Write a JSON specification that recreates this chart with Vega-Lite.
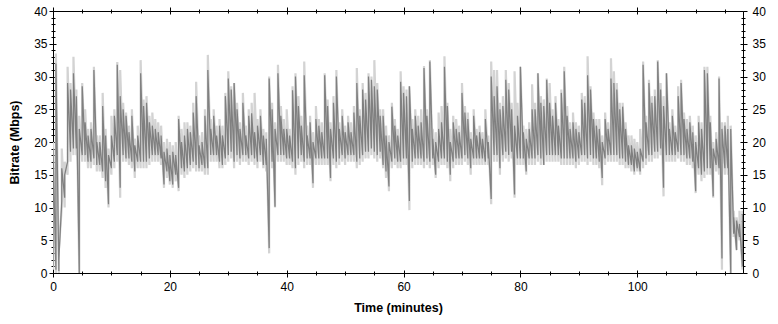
{
"$schema": "https://vega.github.io/schema/vega-lite/v6.json",
"width": 690, "height": 262,
"autosize": {"type": "none"},
"padding": {"left": 53, "top": 11, "right": 35, "bottom": 51},
"background": "white",
"config": {"view": {"stroke": null}, "axis": {"domainColor": "black", "tickColor": "black", "labelColor": "black", "titleColor": "black", "labelFont": "Liberation Sans", "titleFont": "Liberation Sans", "labelFontSize": 12, "titleFontSize": 12.5, "titleFontWeight": "bold", "grid": false, "labelFlush": false, "labelOverlap": false, "domainWidth": 1, "tickWidth": 1}},
"data": {"values": [
{"t":0,"mn":0.5,"lo":1,"hi":19,"pk":20},
{"t":0.5,"mn":0,"lo":0.5,"hi":32,"pk":33.5},
{"t":1,"mn":0,"lo":0.3,"hi":2,"pk":3.5},
{"t":1.5,"mn":10,"lo":11,"hi":16,"pk":19},
{"t":2,"mn":10,"lo":11.5,"hi":15,"pk":17},
{"t":2.5,"mn":15,"lo":17,"hi":29,"pk":31.5},
{"t":3,"mn":17,"lo":18.5,"hi":28,"pk":29},
{"t":3.5,"mn":18,"lo":19,"hi":30.5,"pk":33},
{"t":4,"mn":18,"lo":19,"hi":27,"pk":28},
{"t":4.5,"mn":0,"lo":0,"hi":22,"pk":24},
{"t":5,"mn":17,"lo":18,"hi":28.5,"pk":29},
{"t":5.5,"mn":17,"lo":18,"hi":23,"pk":25},
{"t":6,"mn":16,"lo":17,"hi":21,"pk":22},
{"t":6.5,"mn":16,"lo":17,"hi":22,"pk":23},
{"t":7,"mn":16.5,"lo":17.5,"hi":31,"pk":31.5},
{"t":7.5,"mn":15.5,"lo":16.5,"hi":20,"pk":21},
{"t":8,"mn":15.5,"lo":16.5,"hi":20,"pk":21},
{"t":8.5,"mn":14.5,"lo":15.5,"hi":25.5,"pk":27.5},
{"t":9,"mn":13,"lo":14,"hi":21,"pk":22},
{"t":9.5,"mn":10,"lo":10.5,"hi":18,"pk":19},
{"t":10,"mn":15,"lo":16,"hi":21,"pk":24},
{"t":10.5,"mn":16,"lo":17,"hi":24,"pk":25},
{"t":11,"mn":17,"lo":18,"hi":31.8,"pk":32.2},
{"t":11.5,"mn":11.5,"lo":13,"hi":27,"pk":31},
{"t":12,"mn":17,"lo":18,"hi":25,"pk":26},
{"t":12.5,"mn":17,"lo":17.5,"hi":24,"pk":24.5},
{"t":13,"mn":16.5,"lo":17.5,"hi":21.5,"pk":22.5},
{"t":13.5,"mn":16,"lo":17,"hi":24,"pk":25},
{"t":14,"mn":14.5,"lo":15.5,"hi":19.5,"pk":20.5},
{"t":14.5,"mn":16,"lo":17,"hi":21,"pk":22.5},
{"t":15,"mn":16,"lo":17,"hi":30.5,"pk":32.5},
{"t":15.5,"mn":16,"lo":17,"hi":25.5,"pk":26.5},
{"t":16,"mn":16,"lo":17,"hi":26,"pk":27},
{"t":16.5,"mn":16.5,"lo":17.5,"hi":23,"pk":24},
{"t":17,"mn":17,"lo":18,"hi":22.5,"pk":24.5},
{"t":17.5,"mn":17,"lo":18,"hi":22,"pk":23.5},
{"t":18,"mn":17,"lo":18,"hi":21.5,"pk":23},
{"t":18.5,"mn":16.5,"lo":17.5,"hi":21,"pk":22.5},
{"t":19,"mn":13,"lo":13.5,"hi":18.5,"pk":20},
{"t":19.5,"mn":14.5,"lo":15.5,"hi":19,"pk":20.5},
{"t":20,"mn":13.5,"lo":14,"hi":18,"pk":20},
{"t":20.5,"mn":13,"lo":13.5,"hi":18.5,"pk":19.5},
{"t":21,"mn":14,"lo":15,"hi":18,"pk":20},
{"t":21.5,"mn":12.5,"lo":13,"hi":23.5,"pk":24},
{"t":22,"mn":15,"lo":16,"hi":20,"pk":22},
{"t":22.5,"mn":14.5,"lo":15.5,"hi":21,"pk":23},
{"t":23,"mn":15,"lo":16,"hi":22,"pk":23},
{"t":23.5,"mn":15.5,"lo":16.5,"hi":21.5,"pk":22.5},
{"t":24,"mn":16,"lo":17,"hi":24.5,"pk":26},
{"t":24.5,"mn":15.5,"lo":16.5,"hi":27,"pk":29.2},
{"t":25,"mn":15.5,"lo":16,"hi":19.5,"pk":21},
{"t":25.5,"mn":15.5,"lo":16.5,"hi":20,"pk":21.5},
{"t":26,"mn":15,"lo":16,"hi":24,"pk":25},
{"t":26.5,"mn":15,"lo":16,"hi":31,"pk":33.3},
{"t":27,"mn":17,"lo":18,"hi":22,"pk":23.5},
{"t":27.5,"mn":17,"lo":18,"hi":24,"pk":25},
{"t":28,"mn":17,"lo":18,"hi":21,"pk":22.5},
{"t":28.5,"mn":16,"lo":17,"hi":22.5,"pk":23.5},
{"t":29,"mn":16,"lo":16.5,"hi":21,"pk":22.5},
{"t":29.5,"mn":16.5,"lo":17.5,"hi":27,"pk":27.5},
{"t":30,"mn":17,"lo":18,"hi":29.7,"pk":30.8},
{"t":30.5,"mn":17.5,"lo":18.5,"hi":28,"pk":28.5},
{"t":31,"mn":16,"lo":17,"hi":29,"pk":29},
{"t":31.5,"mn":17,"lo":18,"hi":25,"pk":26},
{"t":32,"mn":16.5,"lo":17.5,"hi":22,"pk":23},
{"t":32.5,"mn":17,"lo":18,"hi":26,"pk":27.5},
{"t":33,"mn":17,"lo":18,"hi":21,"pk":22.5},
{"t":33.5,"mn":16.5,"lo":17.5,"hi":24,"pk":25},
{"t":34,"mn":17,"lo":18,"hi":24.4,"pk":26},
{"t":34.5,"mn":16.5,"lo":17.5,"hi":21.5,"pk":27.5},
{"t":35,"mn":16,"lo":17,"hi":22.5,"pk":23.5},
{"t":35.5,"mn":17,"lo":18,"hi":24,"pk":25},
{"t":36,"mn":16,"lo":16.5,"hi":21,"pk":22},
{"t":36.5,"mn":15.5,"lo":16.5,"hi":20.5,"pk":21.5},
{"t":37,"mn":3,"lo":3.8,"hi":29.7,"pk":30},
{"t":37.5,"mn":16,"lo":17,"hi":25,"pk":26},
{"t":38,"mn":10,"lo":10.1,"hi":22,"pk":23},
{"t":38.5,"mn":17,"lo":18,"hi":30.5,"pk":31.8},
{"t":39,"mn":17,"lo":18,"hi":24,"pk":25.5},
{"t":39.5,"mn":17,"lo":18,"hi":22,"pk":23.5},
{"t":40,"mn":16.5,"lo":17.5,"hi":22,"pk":25},
{"t":40.5,"mn":16.5,"lo":17.5,"hi":21,"pk":22},
{"t":41,"mn":16,"lo":17,"hi":27.9,"pk":28.5},
{"t":41.5,"mn":15,"lo":16,"hi":30,"pk":30.5},
{"t":42,"mn":16.5,"lo":17.5,"hi":25.5,"pk":27},
{"t":42.5,"mn":17,"lo":18,"hi":22.5,"pk":24},
{"t":43,"mn":16,"lo":17,"hi":30.2,"pk":32.3},
{"t":43.5,"mn":16.5,"lo":17.5,"hi":21,"pk":22.5},
{"t":44,"mn":16.5,"lo":17.5,"hi":23,"pk":24},
{"t":44.5,"mn":13,"lo":13.7,"hi":20,"pk":21.5},
{"t":45,"mn":16.5,"lo":17.5,"hi":23.5,"pk":25.5},
{"t":45.5,"mn":16.5,"lo":17.5,"hi":22.5,"pk":23.5},
{"t":46,"mn":16.5,"lo":17.5,"hi":21.5,"pk":23},
{"t":46.5,"mn":16.5,"lo":17.5,"hi":30.2,"pk":30.5},
{"t":47,"mn":16.5,"lo":17.5,"hi":25.5,"pk":26.5},
{"t":47.5,"mn":14,"lo":14.5,"hi":22,"pk":23},
{"t":48,"mn":16.5,"lo":17.5,"hi":26,"pk":27},
{"t":48.5,"mn":16,"lo":17,"hi":30,"pk":31},
{"t":49,"mn":16.5,"lo":17.5,"hi":22,"pk":23},
{"t":49.5,"mn":17,"lo":18,"hi":24,"pk":25},
{"t":50,"mn":16.5,"lo":17.5,"hi":21.5,"pk":22.5},
{"t":50.5,"mn":17,"lo":18,"hi":23,"pk":24},
{"t":51,"mn":17,"lo":18,"hi":21.5,"pk":23},
{"t":51.5,"mn":17,"lo":18,"hi":24.5,"pk":25.5},
{"t":52,"mn":16,"lo":17,"hi":29,"pk":31.3},
{"t":52.5,"mn":16.5,"lo":17.5,"hi":24,"pk":25},
{"t":53,"mn":17,"lo":18,"hi":28,"pk":29},
{"t":53.5,"mn":17.5,"lo":18.5,"hi":26.5,"pk":27.5},
{"t":54,"mn":17.5,"lo":18.5,"hi":30,"pk":30.5},
{"t":54.5,"mn":18,"lo":19,"hi":29.5,"pk":30},
{"t":55,"mn":17.5,"lo":18.5,"hi":28.5,"pk":32.5},
{"t":55.5,"mn":17,"lo":18,"hi":28,"pk":29},
{"t":56,"mn":17.5,"lo":18.5,"hi":24,"pk":25},
{"t":56.5,"mn":16,"lo":16.5,"hi":24,"pk":25},
{"t":57,"mn":14.5,"lo":15.5,"hi":21,"pk":22.5},
{"t":57.5,"mn":12.5,"lo":13.2,"hi":20,"pk":21},
{"t":58,"mn":16,"lo":17,"hi":25.4,"pk":26},
{"t":58.5,"mn":16.5,"lo":17.5,"hi":22.5,"pk":23.5},
{"t":59,"mn":16,"lo":17,"hi":21,"pk":22},
{"t":59.5,"mn":16,"lo":17,"hi":29.2,"pk":30.8},
{"t":60,"mn":16.5,"lo":17.5,"hi":27.5,"pk":28.5},
{"t":60.5,"mn":16.5,"lo":17.5,"hi":27,"pk":28},
{"t":61,"mn":9.6,"lo":11,"hi":28.5,"pk":28.5},
{"t":61.5,"mn":16,"lo":17,"hi":22,"pk":23.5},
{"t":62,"mn":16.5,"lo":17.5,"hi":24,"pk":25},
{"t":62.5,"mn":16.5,"lo":17.5,"hi":22.5,"pk":24},
{"t":63,"mn":16.5,"lo":17.5,"hi":23,"pk":25},
{"t":63.5,"mn":16,"lo":17,"hi":31.3,"pk":31.6},
{"t":64,"mn":16.5,"lo":17.5,"hi":24,"pk":25},
{"t":64.5,"mn":16,"lo":17,"hi":32.3,"pk":32.5},
{"t":65,"mn":16.5,"lo":17.5,"hi":20.5,"pk":22},
{"t":65.5,"mn":14.5,"lo":15,"hi":20,"pk":21.5},
{"t":66,"mn":16,"lo":17,"hi":22,"pk":24.5},
{"t":66.5,"mn":16.5,"lo":17.5,"hi":23,"pk":25.5},
{"t":67,"mn":16.5,"lo":17.5,"hi":31.5,"pk":33.1},
{"t":67.5,"mn":16,"lo":17,"hi":25.5,"pk":26},
{"t":68,"mn":14,"lo":15,"hi":20,"pk":22},
{"t":68.5,"mn":16,"lo":17,"hi":23,"pk":24},
{"t":69,"mn":16.5,"lo":17.5,"hi":22,"pk":23.5},
{"t":69.5,"mn":16.5,"lo":17.5,"hi":21.5,"pk":22.5},
{"t":70,"mn":16.5,"lo":17.5,"hi":27.5,"pk":29},
{"t":70.5,"mn":17,"lo":18,"hi":24.5,"pk":25.5},
{"t":71,"mn":16.5,"lo":17.5,"hi":23.5,"pk":24.5},
{"t":71.5,"mn":15,"lo":16,"hi":20.5,"pk":21.5},
{"t":72,"mn":16.5,"lo":17.5,"hi":24,"pk":25},
{"t":72.5,"mn":16.5,"lo":17.5,"hi":21,"pk":22},
{"t":73,"mn":16.5,"lo":17.5,"hi":21.5,"pk":22.5},
{"t":73.5,"mn":16.5,"lo":17.5,"hi":20.5,"pk":21.5},
{"t":74,"mn":16.5,"lo":17,"hi":23.5,"pk":25},
{"t":74.5,"mn":16.5,"lo":17.5,"hi":20,"pk":21},
{"t":75,"mn":10.5,"lo":11.3,"hi":30,"pk":32.3},
{"t":75.5,"mn":17,"lo":18,"hi":27,"pk":31},
{"t":76,"mn":17,"lo":18,"hi":28.5,"pk":31},
{"t":76.5,"mn":15,"lo":16,"hi":25,"pk":26},
{"t":77,"mn":17,"lo":18,"hi":25.5,"pk":27},
{"t":77.5,"mn":17.5,"lo":18.5,"hi":29.5,"pk":31},
{"t":78,"mn":17,"lo":18,"hi":28,"pk":29},
{"t":78.5,"mn":17.5,"lo":18.5,"hi":25,"pk":26},
{"t":79,"mn":11.5,"lo":12,"hi":22.5,"pk":30.8},
{"t":79.5,"mn":16.5,"lo":17.5,"hi":24,"pk":26},
{"t":80,"mn":16.5,"lo":17.5,"hi":31.5,"pk":31.5},
{"t":80.5,"mn":16.5,"lo":17.5,"hi":21.5,"pk":22.5},
{"t":81,"mn":15,"lo":15.5,"hi":20.5,"pk":22},
{"t":81.5,"mn":16.5,"lo":17.5,"hi":22,"pk":23},
{"t":82,"mn":16.5,"lo":17.5,"hi":25,"pk":28.8},
{"t":82.5,"mn":16.5,"lo":17.5,"hi":25,"pk":26},
{"t":83,"mn":17,"lo":18,"hi":30.5,"pk":30.5},
{"t":83.5,"mn":16.5,"lo":17.5,"hi":26,"pk":27},
{"t":84,"mn":16.5,"lo":16.5,"hi":25.5,"pk":26.5},
{"t":84.5,"mn":17,"lo":18,"hi":29.5,"pk":29.7},
{"t":85,"mn":17,"lo":18,"hi":26,"pk":29},
{"t":85.5,"mn":17,"lo":18,"hi":24,"pk":25},
{"t":86,"mn":17,"lo":18,"hi":26,"pk":27},
{"t":86.5,"mn":17,"lo":18,"hi":22.5,"pk":23.5},
{"t":87,"mn":16.5,"lo":17.5,"hi":27.5,"pk":28},
{"t":87.5,"mn":16.5,"lo":17.5,"hi":30.8,"pk":31.5},
{"t":88,"mn":16.5,"lo":17.5,"hi":24,"pk":25.5},
{"t":88.5,"mn":16.5,"lo":17.5,"hi":22,"pk":23},
{"t":89,"mn":16.5,"lo":17.5,"hi":23,"pk":24.5},
{"t":89.5,"mn":16,"lo":17,"hi":22,"pk":23},
{"t":90,"mn":16.5,"lo":17.5,"hi":21.5,"pk":22.5},
{"t":90.5,"mn":17,"lo":18,"hi":26.5,"pk":27.5},
{"t":91,"mn":17,"lo":18,"hi":26,"pk":27},
{"t":91.5,"mn":16.5,"lo":17.5,"hi":30.2,"pk":33.1},
{"t":92,"mn":17,"lo":18,"hi":28,"pk":28.5},
{"t":92.5,"mn":16.5,"lo":17.5,"hi":23.5,"pk":24.5},
{"t":93,"mn":16.5,"lo":17.5,"hi":22.5,"pk":23.5},
{"t":93.5,"mn":16,"lo":17,"hi":22,"pk":23.5},
{"t":94,"mn":13.4,"lo":14.5,"hi":20,"pk":21},
{"t":94.5,"mn":16.5,"lo":17.5,"hi":23.5,"pk":24.5},
{"t":95,"mn":17,"lo":18,"hi":22,"pk":23},
{"t":95.5,"mn":17,"lo":18,"hi":29.7,"pk":32.8},
{"t":96,"mn":17,"lo":18,"hi":29,"pk":30.8},
{"t":96.5,"mn":17,"lo":18,"hi":28,"pk":29},
{"t":97,"mn":16.5,"lo":17.5,"hi":25,"pk":26},
{"t":97.5,"mn":16.5,"lo":17.5,"hi":25.4,"pk":26},
{"t":98,"mn":16,"lo":17,"hi":22,"pk":23},
{"t":98.5,"mn":16,"lo":16.5,"hi":19.5,"pk":21},
{"t":99,"mn":15.5,"lo":16.5,"hi":19.5,"pk":21},
{"t":99.5,"mn":15,"lo":15.5,"hi":19,"pk":20.5},
{"t":100,"mn":15.5,"lo":16,"hi":18.5,"pk":20},
{"t":100.5,"mn":15,"lo":15.5,"hi":19,"pk":22},
{"t":101,"mn":16,"lo":17,"hi":31.8,"pk":32.3},
{"t":101.5,"mn":16.5,"lo":17.5,"hi":23,"pk":24},
{"t":102,"mn":17,"lo":18,"hi":29,"pk":29.5},
{"t":102.5,"mn":17,"lo":18,"hi":26,"pk":27},
{"t":103,"mn":17.5,"lo":18.5,"hi":27,"pk":28},
{"t":103.5,"mn":17.5,"lo":18.5,"hi":32.3,"pk":32.5},
{"t":104,"mn":18,"lo":19,"hi":28,"pk":29},
{"t":104.5,"mn":11.7,"lo":13,"hi":25.5,"pk":27},
{"t":105,"mn":17,"lo":18,"hi":30.5,"pk":30.5},
{"t":105.5,"mn":17,"lo":18,"hi":22,"pk":23},
{"t":106,"mn":17,"lo":18,"hi":24,"pk":25},
{"t":106.5,"mn":17,"lo":18,"hi":21.5,"pk":22.5},
{"t":107,"mn":17.5,"lo":18.5,"hi":27,"pk":28.5},
{"t":107.5,"mn":17,"lo":18,"hi":29,"pk":29.5},
{"t":108,"mn":17,"lo":18,"hi":23.5,"pk":24.5},
{"t":108.5,"mn":16.5,"lo":17.5,"hi":22,"pk":23.5},
{"t":109,"mn":16.5,"lo":17.5,"hi":23,"pk":24},
{"t":109.5,"mn":16,"lo":17,"hi":21.5,"pk":22.5},
{"t":110,"mn":12.2,"lo":12.5,"hi":20,"pk":21},
{"t":110.5,"mn":15,"lo":16,"hi":23,"pk":24},
{"t":111,"mn":14,"lo":15,"hi":22,"pk":23},
{"t":111.5,"mn":14.5,"lo":15.5,"hi":31,"pk":31.5},
{"t":112,"mn":15,"lo":16,"hi":30.5,"pk":31.5},
{"t":112.5,"mn":15,"lo":16,"hi":23,"pk":24},
{"t":113,"mn":11.5,"lo":11.7,"hi":19,"pk":20},
{"t":113.5,"mn":15.5,"lo":16.5,"hi":20.5,"pk":21.5},
{"t":114,"mn":15,"lo":16,"hi":29.7,"pk":30},
{"t":114.5,"mn":0.5,"lo":2.2,"hi":22,"pk":23},
{"t":115,"mn":15,"lo":16,"hi":22.5,"pk":23},
{"t":115.5,"mn":15,"lo":16,"hi":22,"pk":24},
{"t":116,"mn":0,"lo":0,"hi":22,"pk":22.5},
{"t":116.5,"mn":5.5,"lo":6,"hi":8.5,"pk":9.5},
{"t":117,"mn":3.5,"lo":3.5,"hi":8,"pk":8.5},
{"t":117.5,"mn":5,"lo":5.5,"hi":7.5,"pk":9.5},
{"t":118,"mn":0.5,"lo":1,"hi":9,"pk":9.5}
]},
"layer": [
{"transform": [{"fold": ["mn", "pk"], "as": ["k", "v"]}],
 "mark": {"type": "line", "color": "#d3d3d3", "strokeWidth": 2.2, "clip": true, "interpolate": "linear"},
 "encoding": {
  "x": {"field": "t", "type": "quantitative", "scale": {"domain": [0, 118.1], "nice": false},
   "axis": {"orient": "bottom", "values": [0,5,10,15,20,25,30,35,40,45,50,55,60,65,70,75,80,85,90,95,100,105,110,115], "tickSize": {"condition": {"test": "datum.value % 20 === 0", "value": 4}, "value": 2}, "labelExpr": "datum.value % 20 === 0 ? datum.label : ''", "labelPadding": 4, "title": "Time (minutes)", "titlePadding": 9}},
  "y": {"field": "v", "type": "quantitative", "scale": {"domain": [0, 40], "nice": false},
   "axis": {"orient": "left", "values": [0,1,2,3,4,5,6,7,8,9,10,11,12,13,14,15,16,17,18,19,20,21,22,23,24,25,26,27,28,29,30,31,32,33,34,35,36,37,38,39,40], "tickSize": {"condition": {"test": "datum.value % 5 === 0", "value": 4}, "value": 2}, "labelExpr": "datum.value % 5 === 0 ? datum.label : ''", "labelPadding": 2, "title": "Bitrate (Mbps)", "titlePadding": 12}},
  "order": [{"field": "t", "type": "quantitative"}, {"field": "k", "type": "nominal"}]
 }},
{"transform": [{"fold": ["lo", "hi"], "as": ["k", "v"]}],
 "mark": {"type": "line", "color": "#808080", "strokeWidth": 1.25, "clip": true, "interpolate": "linear"},
 "encoding": {
  "x": {"field": "t", "type": "quantitative", "scale": {"domain": [0, 118.1], "nice": false},
   "axis": {"orient": "bottom", "domain": false, "labels": false, "title": null, "values": [0,5,10,15,20,25,30,35,40,45,50,55,60,65,70,75,80,85,90,95,100,105,110,115], "tickSize": {"condition": {"test": "datum.value % 20 === 0", "value": -3}, "value": -2}}},
  "y": {"field": "v", "type": "quantitative", "scale": {"domain": [0, 40], "nice": false},
   "axis": {"orient": "left", "domain": false, "labels": false, "title": null, "values": [0,1,2,3,4,5,6,7,8,9,10,11,12,13,14,15,16,17,18,19,20,21,22,23,24,25,26,27,28,29,30,31,32,33,34,35,36,37,38,39,40], "tickSize": {"condition": {"test": "datum.value % 5 === 0", "value": -3}, "value": -2}}},
  "order": [{"field": "t", "type": "quantitative"}, {"field": "k", "type": "nominal"}]
 }},
{"mark": {"type": "rule", "strokeOpacity": 0},
 "encoding": {
  "x": {"field": "t", "type": "quantitative", "scale": {"domain": [0, 118.1], "nice": false},
   "axis": {"orient": "top", "labels": false, "title": null, "values": [0,5,10,15,20,25,30,35,40,45,50,55,60,65,70,75,80,85,90,95,100,105,110,115], "tickSize": {"condition": {"test": "datum.value % 20 === 0", "value": 4}, "value": 2}}},
  "y": {"field": "lo", "type": "quantitative", "scale": {"domain": [0, 40], "nice": false},
   "axis": {"orient": "right", "title": null, "values": [0,1,2,3,4,5,6,7,8,9,10,11,12,13,14,15,16,17,18,19,20,21,22,23,24,25,26,27,28,29,30,31,32,33,34,35,36,37,38,39,40], "tickSize": {"condition": {"test": "datum.value % 5 === 0", "value": 4}, "value": 2}, "labelExpr": "datum.value % 5 === 0 ? datum.label : ''", "labelPadding": 5}},
  "y2": {"field": "hi"}
 }},
{"mark": {"type": "rule", "strokeOpacity": 0},
 "encoding": {
  "x": {"field": "t", "type": "quantitative", "scale": {"domain": [0, 118.1], "nice": false},
   "axis": {"orient": "top", "domain": false, "labels": false, "title": null, "values": [0,5,10,15,20,25,30,35,40,45,50,55,60,65,70,75,80,85,90,95,100,105,110,115], "tickSize": {"condition": {"test": "datum.value % 20 === 0", "value": -3}, "value": -2}}},
  "y": {"field": "lo", "type": "quantitative", "scale": {"domain": [0, 40], "nice": false},
   "axis": {"orient": "right", "domain": false, "labels": false, "title": null, "values": [0,1,2,3,4,5,6,7,8,9,10,11,12,13,14,15,16,17,18,19,20,21,22,23,24,25,26,27,28,29,30,31,32,33,34,35,36,37,38,39,40], "tickSize": {"condition": {"test": "datum.value % 5 === 0", "value": -3}, "value": -2}}},
  "y2": {"field": "hi"}
 }}
],
"resolve": {"axis": {"x": "independent", "y": "independent"}}
}
